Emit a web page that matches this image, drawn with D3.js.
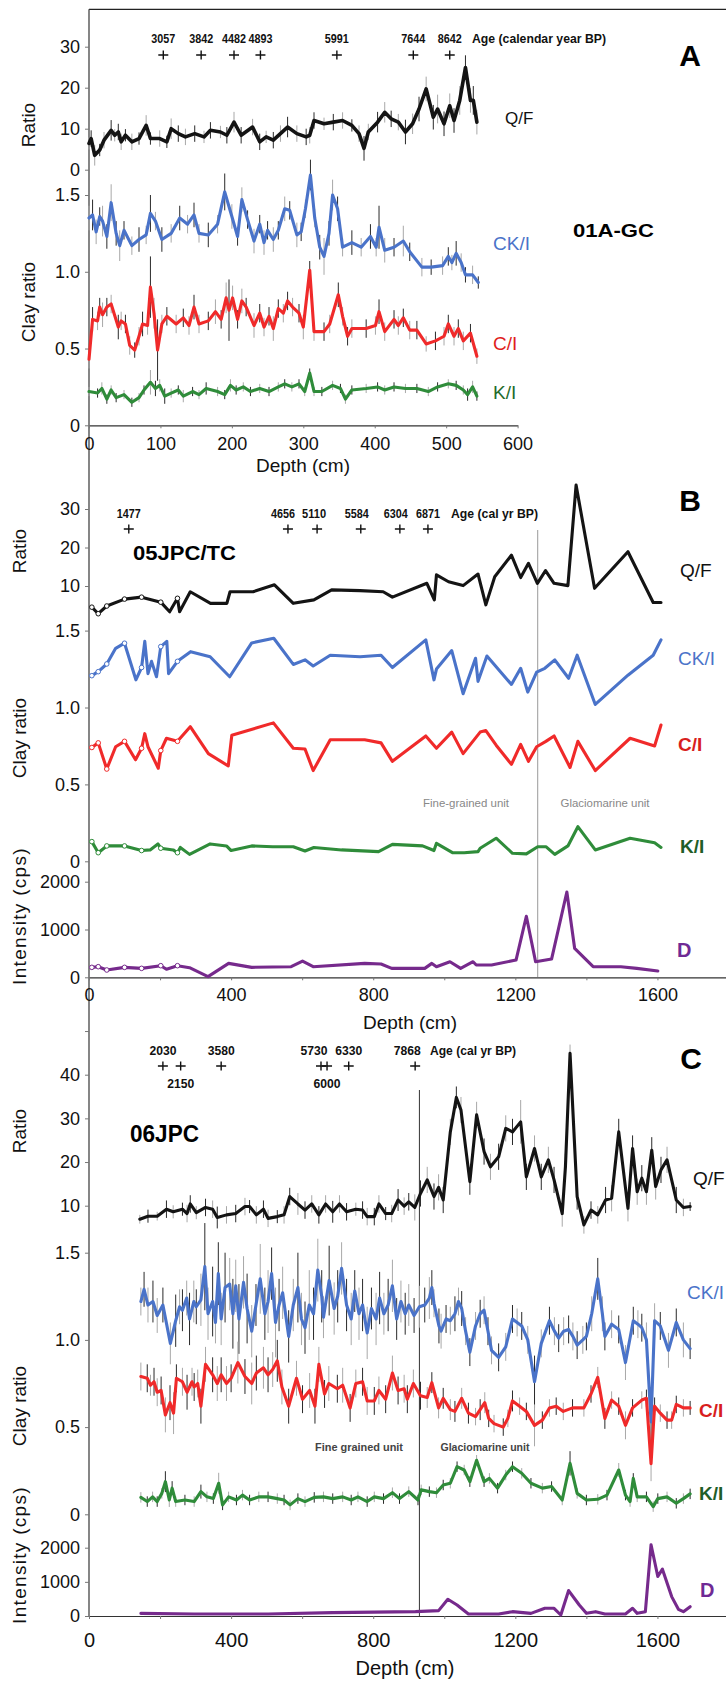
<!DOCTYPE html>
<html><head><meta charset="utf-8">
<script src="https://cdn.jsdelivr.net/npm/d3@7"></script>
<style>
body{margin:0;background:#fff}
svg{display:block}
text{font-family:"Liberation Sans",Arial,sans-serif}
</style></head>
<body><svg id="chart" width="726" height="1684"></svg>
<script>
// ---------------- DATA ----------------
// Panel A (01A-GC)
const aDepthQF=[0,3,8,15,21,31,36,41,45,51,60,70,80,86,99,109,115,125,135,148,161,170,184,193,203,213,229,239,248,258,268,278,291,304,309,315,329,342,355,368,378,385,391,404,414,423,433,443,453,462,472,482,488,497,505,511,519,527,534,538,543];
const aQF=[6.4,7.6,3.5,4.8,7.2,9.6,8.4,9.2,6.8,8.4,6.8,7.6,10.8,7.6,7.6,6.8,10,8.8,8,8.8,8,9.6,9.2,8.4,11.6,8.4,10.4,6.8,8,7.2,8.8,10.4,8.8,8,8.4,12,11.2,11.6,12,10.8,8.8,5.2,9.2,11.6,14,12.4,11.6,9.2,11.2,14.8,19.7,12.8,14.8,11.2,15.6,12,16.9,24.9,16.9,16.9,11.6];
const aQFerr=[1.5,2,2.5,1.5,2,2.5,1.5,2,2,1.5,2,1.5,2.5,1.5,2,1.5,2.5,2,2,2,1.5,2,1.5,2,2.5,2,2,2,1.5,2,2,2.5,2,2,2,2,1.5,2,2,1.5,2,3,2,2.5,2.5,2,2,3,2.5,3,3,3,3.5,3,3,3,3.5,3,3,3.5,3];
const aDepthCK=[0,5,10,15,19,25,31,38,43,49,60,70,80,86,93,102,115,127,138,147,154,167,180,190,200,208,214,222,231,239,245,250,258,265,274,281,291,297,303,310,316,323,329,336,341,348,355,368,381,394,402,406,414,427,440,449,466,479,495,503,508,514,521,527,537,545];
const aCK=[1.35,1.37,1.26,1.36,1.33,1.23,1.45,1.25,1.17,1.27,1.17,1.21,1.24,1.38,1.33,1.21,1.25,1.35,1.31,1.37,1.25,1.24,1.31,1.52,1.36,1.23,1.47,1.34,1.2,1.31,1.19,1.27,1.21,1.27,1.41,1.40,1.24,1.26,1.41,1.63,1.35,1.16,1.10,1.25,1.5,1.41,1.16,1.19,1.16,1.23,1.16,1.29,1.14,1.16,1.2,1.13,1.03,1.03,1.04,1.10,1.06,1.12,1.06,0.98,0.98,0.93];
const aCKerr=[0.08,0.1,0.08,0.06,0.1,0.08,0.12,0.08,0.1,0.06,0.06,0.08,0.06,0.12,0.06,0.08,0.06,0.08,0.06,0.08,0.06,0.08,0.06,0.12,0.08,0.06,0.08,0.06,0.08,0.06,0.08,0.06,0.08,0.06,0.08,0.06,0.08,0.06,0.06,0.1,0.06,0.08,0.12,0.08,0.1,0.08,0.06,0.08,0.06,0.08,0.06,0.14,0.08,0.06,0.1,0.06,0.06,0.05,0.06,0.06,0.05,0.08,0.06,0.05,0.06,0.04];
const aDepthCI=[0,5,12,15,19,25,31,41,45,51,57,64,70,75,82,86,91,96,102,109,122,132,140,147,154,167,177,185,192,196,201,208,214,220,231,239,245,252,258,265,272,278,285,294,300,309,315,329,337,349,355,362,368,388,401,406,414,427,433,440,449,459,472,485,497,503,511,517,524,534,543];
const aCI=[0.43,0.69,0.68,0.77,0.72,0.77,0.79,0.64,0.68,0.66,0.52,0.49,0.58,0.66,0.65,0.90,0.73,0.49,0.66,0.71,0.66,0.70,0.65,0.77,0.66,0.68,0.74,0.69,0.83,0.75,0.83,0.69,0.81,0.77,0.65,0.73,0.64,0.71,0.63,0.76,0.73,0.81,0.77,0.73,0.64,1.01,0.61,0.61,0.66,0.85,0.71,0.58,0.63,0.63,0.65,0.74,0.61,0.69,0.65,0.70,0.62,0.62,0.53,0.55,0.58,0.66,0.58,0.63,0.55,0.60,0.45];
const aCIerr=[0.06,0.08,0.06,0.06,0.08,0.06,0.06,0.08,0.06,0.06,0.06,0.05,0.06,0.08,0.06,0.2,0.1,0.2,0.06,0.06,0.06,0.06,0.06,0.08,0.06,0.06,0.08,0.06,0.1,0.2,0.08,0.06,0.08,0.06,0.08,0.06,0.06,0.06,0.08,0.06,0.06,0.06,0.06,0.06,0.08,0.06,0.06,0.06,0.06,0.08,0.06,0.06,0.06,0.06,0.06,0.08,0.06,0.06,0.06,0.06,0.06,0.06,0.05,0.06,0.06,0.06,0.06,0.06,0.06,0.06,0.05];
const aDepthKI=[0,12,18,25,31,38,49,60,70,77,86,93,99,106,115,125,132,145,154,164,180,190,198,206,216,226,239,252,265,274,284,294,302,309,315,326,341,352,359,368,388,404,414,427,443,459,475,488,503,514,524,530,537,543];
const aKI=[0.22,0.21,0.24,0.17,0.23,0.18,0.2,0.15,0.18,0.23,0.28,0.24,0.26,0.19,0.21,0.23,0.19,0.22,0.2,0.24,0.22,0.2,0.26,0.23,0.25,0.22,0.24,0.22,0.25,0.27,0.25,0.27,0.22,0.34,0.22,0.22,0.26,0.24,0.17,0.23,0.24,0.25,0.23,0.25,0.24,0.24,0.22,0.25,0.27,0.26,0.23,0.2,0.25,0.19];
const aKIerr=[0.03,0.03,0.04,0.03,0.03,0.03,0.03,0.03,0.03,0.03,0.08,0.05,0.04,0.05,0.03,0.03,0.04,0.03,0.03,0.04,0.03,0.03,0.04,0.03,0.03,0.03,0.03,0.03,0.03,0.03,0.03,0.03,0.03,0.03,0.03,0.03,0.03,0.03,0.03,0.03,0.03,0.03,0.03,0.03,0.03,0.03,0.03,0.03,0.03,0.03,0.03,0.04,0.04,0.03];
const aAgeDepths=[104,157,203,240,347,454,505];
const aAgeLabels=["3057","3842","4482","4893","5991","7644","8642"];

// Panel B (05JPC/TC)
const bTCDepths=[8,26,50,100,148,202,249];
const bDepthQF=[8,26,50,100,148,202,227,249,255,285,342,388,397,462,522,575,633,683,763,828,854,951,972,978,1012,1053,1095,1117,1142,1189,1215,1237,1262,1285,1309,1348,1371,1423,1517,1588,1610];
const bQF=[4.5,2.8,4.8,6.6,7.1,5.8,3.3,6.8,3.3,8.5,5.5,5.5,8.5,8.5,10.3,5.5,6.4,9,8.8,8.5,7.1,10.7,6.4,12.9,11.1,10.1,13.1,5.1,12.4,18,12.2,15.9,10.7,14,10.7,10.1,36.2,9.4,18.9,5.7,5.7];
const bDepthCK=[8,26,50,75,100,132,148,157,166,176,190,202,219,224,249,286,341,396,458,520,575,608,631,679,763,822,854,948,971,978,1021,1053,1088,1095,1120,1189,1215,1235,1260,1283,1311,1350,1374,1425,1517,1588,1610];
const bCK=[1.207,1.233,1.283,1.385,1.418,1.18,1.26,1.43,1.22,1.30,1.20,1.396,1.43,1.22,1.30,1.363,1.33,1.20,1.42,1.45,1.28,1.31,1.27,1.34,1.33,1.34,1.26,1.44,1.18,1.25,1.37,1.09,1.32,1.17,1.335,1.15,1.255,1.10,1.23,1.255,1.31,1.19,1.34,1.02,1.21,1.34,1.44];
const bDepthCI=[8,26,50,75,100,131,148,157,166,195,202,218,249,285,336,392,402,519,575,608,631,679,776,822,854,948,978,1021,1053,1101,1117,1146,1189,1215,1237,1260,1286,1309,1354,1376,1425,1523,1592,1610];
const bCI=[0.74,0.77,0.60,0.745,0.78,0.66,0.735,0.83,0.745,0.605,0.72,0.80,0.78,0.875,0.70,0.62,0.82,0.90,0.735,0.73,0.59,0.79,0.79,0.77,0.65,0.815,0.735,0.84,0.70,0.84,0.85,0.755,0.63,0.76,0.65,0.745,0.78,0.815,0.61,0.78,0.59,0.80,0.75,0.886];
const bDepthKI=[8,26,50,100,148,172,194,202,237,249,257,283,341,387,400,458,517,575,608,633,711,815,854,939,971,978,1023,1056,1095,1101,1146,1192,1231,1263,1286,1311,1348,1376,1425,1523,1592,1610];
const bKI=[0.128,0.056,0.10,0.10,0.07,0.074,0.113,0.085,0.074,0.056,0.09,0.045,0.113,0.10,0.07,0.10,0.095,0.095,0.067,0.09,0.074,0.063,0.11,0.10,0.07,0.117,0.056,0.056,0.063,0.085,0.15,0.052,0.048,0.095,0.095,0.045,0.10,0.225,0.074,0.15,0.12,0.09];
const bDepthD=[8,26,50,100,148,202,218,249,283,335,393,458,569,601,631,776,822,852,945,965,978,1016,1046,1081,1090,1133,1202,1231,1257,1302,1345,1367,1419,1497,1542,1601];
const bD=[208,222,153,208,187,243,167,243,201,14,291,208,222,340,222,291,278,187,187,291,222,326,187,326,257,257,361,1277,326,382,1784,604,222,222,187,132];
const bAgeDepths=[112,560,642,765,875,954];
const bAgeLabels=["1477","4656","5110","5584","6304","6871"];
const bUnitBoundary=1263;

// Panel C (06JPC)
const cDepthQF=[143,166,192,218,237,263,276,285,302,328,348,361,387,413,439,452,471,491,504,530,549,565,588,608,627,647,666,686,705,725,751,770,783,803,816,835,852,870,887,900,917,933,952,971,984,997,1017,1034,1047,1072,1091,1112,1130,1153,1173,1192,1215,1231,1254,1273,1293,1309,1332,1341,1354,1374,1393,1413,1432,1454,1471,1491,1517,1530,1543,1556,1569,1584,1595,1610,1627,1653,1673,1692];
const cQF=[6.9,7.6,7.6,9.2,8.6,9.2,8.2,10.4,8.4,9.6,9.2,7.3,7.9,8.2,9.8,9.8,7.9,9.2,7.1,7.5,7.9,12.1,10.4,9,10.4,7.9,10.4,8.6,10.4,8.6,9.2,9,7.5,7.5,10.4,8.2,8.2,11.3,9.9,10.9,9.6,12.8,15.9,12.1,14.2,11.3,26.9,34.8,31.9,15.5,30.8,22.4,18.9,21.2,27.7,26.9,29.2,16.6,23.1,16.6,20.5,15.9,8.2,18.9,44.9,12.1,5.6,9,7.9,11.3,11.7,26.9,9.4,23.1,13.2,16.3,13.2,22.7,14.4,18.2,20.5,11.3,9.6,9.8];
const cQFerr=[1,1.5,1,2,1.5,1.5,2,2,1.5,2,2,2.5,2,2,2,1.5,2,2,2,1.5,2,2,2.5,2,2,2,2,2.5,2,2,1.5,2,2,2,2,1.5,2,2.5,2,2,3,3,3,3,3,3,3,2.5,3,3,3,3,3,3,3,3,5,3,3,3,3,3,3,3,2,3,2,2,2,3,3,3,3,3,3,3,3,3,3,3,3,3,2,1];
const cDepthCK=[146,155,166,180,192,208,229,244,255,263,275,283,295,302,315,326,335,348,356,364,372,383,396,405,413,422,435,445,458,470,482,495,504,514,525,535,545,562,575,588,598,608,620,632,644,655,660,676,690,700,711,725,738,748,760,770,783,795,808,818,830,842,854,866,878,890,900,915,930,945,958,965,971,985,991,1005,1017,1030,1040,1049,1060,1072,1088,1101,1112,1123,1133,1153,1173,1192,1205,1218,1235,1254,1273,1296,1310,1322,1336,1350,1362,1374,1390,1400,1415,1432,1445,1452,1471,1491,1510,1532,1545,1556,1569,1582,1592,1608,1631,1653,1673,1692];
const cCK=[1.22,1.29,1.2,1.22,1.14,1.2,0.98,1.11,1.19,1.17,1.24,1.12,1.22,1.19,1.23,1.42,1.15,1.22,1.1,1.38,1.12,1.3,1.32,1.15,1.31,1.12,1.33,1.18,1.05,1.2,1.35,1.15,1.22,1.38,1.1,1.2,1.27,1.02,1.2,1.3,1.12,1.07,1.2,1.15,1.4,1.25,1.13,1.34,1.18,1.25,1.41,1.2,1.12,1.28,1.15,1.2,1.04,1.18,1.12,1.24,1.15,1.2,1.31,1.12,1.22,1.15,1.2,1.14,1.19,1.2,1.24,1.3,1.21,1.08,1.05,1.12,1.11,1.15,1.22,1.18,1.05,0.93,1.08,1.15,1.17,1.05,0.94,0.9,0.96,1.12,1.1,1.08,1.0,0.76,0.98,1.11,1.05,1.01,1.05,1.06,1.02,0.97,1.0,1.02,1.15,1.35,1.15,1.02,1.09,1.06,0.87,1.11,1.09,1.07,1.0,0.53,1.11,1.08,0.94,1.1,1.0,0.95];
const cCKerr=[0.08,0.1,0.1,0.12,0.1,0.1,0.12,0.15,0.1,0.12,0.1,0.15,0.12,0.1,0.15,0.25,0.15,0.2,0.12,0.18,0.15,0.2,0.15,0.2,0.15,0.2,0.15,0.2,0.15,0.12,0.2,0.15,0.18,0.15,0.2,0.15,0.15,0.15,0.15,0.2,0.15,0.15,0.2,0.15,0.18,0.15,0.12,0.2,0.15,0.15,0.15,0.15,0.15,0.12,0.15,0.15,0.15,0.12,0.15,0.15,0.12,0.15,0.15,0.12,0.12,0.12,0.12,0.1,0.12,0.1,0.12,0.1,0.08,0.1,0.1,0.08,0.08,0.1,0.08,0.1,0.08,0.08,0.08,0.08,0.08,0.08,0.08,0.08,0.08,0.08,0.08,0.08,0.08,0.15,0.08,0.08,0.08,0.08,0.08,0.08,0.08,0.08,0.08,0.08,0.1,0.12,0.1,0.08,0.08,0.08,0.1,0.08,0.08,0.08,0.1,0.2,0.1,0.08,0.1,0.08,0.1,0.06];
const cDepthCI=[146,164,173,183,192,203,215,228,238,246,263,276,290,296,306,315,328,348,361,372,387,400,419,439,458,471,491,504,517,530,543,562,584,601,621,636,647,663,675,699,714,735,751,770,783,803,816,835,854,870,887,896,913,933,952,965,984,997,1017,1030,1049,1068,1088,1101,1114,1125,1140,1166,1179,1192,1212,1231,1254,1276,1296,1315,1335,1361,1393,1413,1432,1452,1471,1491,1510,1530,1556,1569,1582,1592,1608,1627,1640,1653,1673,1692];
const cCI=[0.79,0.78,0.74,0.76,0.70,0.71,0.57,0.64,0.58,0.78,0.76,0.70,0.76,0.73,0.75,0.62,0.86,0.80,0.75,0.80,0.75,0.78,0.87,0.79,0.75,0.81,0.84,0.80,0.83,0.88,0.73,0.62,0.78,0.66,0.71,0.62,0.86,0.69,0.75,0.72,0.74,0.61,0.75,0.76,0.65,0.65,0.71,0.66,0.81,0.71,0.72,0.66,0.75,0.68,0.67,0.755,0.61,0.665,0.60,0.59,0.665,0.58,0.56,0.60,0.64,0.55,0.52,0.50,0.55,0.65,0.62,0.59,0.51,0.54,0.61,0.62,0.59,0.61,0.61,0.69,0.785,0.55,0.655,0.62,0.51,0.61,0.655,0.665,0.29,0.62,0.58,0.54,0.54,0.63,0.61,0.61];
const cCIerr=[0.08,0.08,0.06,0.08,0.08,0.08,0.1,0.1,0.12,0.08,0.08,0.1,0.08,0.08,0.08,0.1,0.1,0.1,0.1,0.1,0.1,0.08,0.12,0.1,0.12,0.1,0.12,0.1,0.1,0.12,0.1,0.1,0.1,0.08,0.1,0.1,0.1,0.08,0.1,0.08,0.1,0.08,0.08,0.08,0.08,0.08,0.08,0.08,0.1,0.08,0.08,0.08,0.08,0.08,0.06,0.06,0.06,0.06,0.06,0.06,0.06,0.06,0.05,0.06,0.06,0.05,0.05,0.05,0.05,0.06,0.05,0.05,0.12,0.05,0.05,0.05,0.05,0.05,0.05,0.05,0.06,0.06,0.05,0.05,0.08,0.05,0.05,0.05,0.1,0.05,0.05,0.05,0.05,0.05,0.05,0.04];
const cDepthKI=[146,164,179,192,205,215,226,234,244,270,296,315,332,350,365,376,393,415,432,452,478,504,530,549,566,588,608,634,660,686,714,738,757,783,803,829,854,874,900,926,935,958,978,997,1017,1036,1056,1072,1091,1112,1127,1150,1173,1192,1218,1244,1276,1302,1332,1354,1374,1400,1432,1458,1491,1510,1523,1532,1543,1569,1588,1601,1627,1653,1673,1692];
const cKI=[0.097,0.073,0.10,0.073,0.12,0.187,0.082,0.15,0.073,0.082,0.073,0.13,0.10,0.09,0.178,0.054,0.10,0.082,0.11,0.082,0.10,0.10,0.09,0.082,0.054,0.09,0.073,0.097,0.10,0.09,0.10,0.082,0.10,0.073,0.10,0.09,0.124,0.09,0.13,0.082,0.14,0.13,0.124,0.168,0.178,0.273,0.254,0.187,0.31,0.187,0.206,0.15,0.225,0.273,0.235,0.178,0.15,0.159,0.082,0.292,0.12,0.082,0.086,0.11,0.254,0.11,0.073,0.206,0.10,0.10,0.044,0.09,0.10,0.063,0.09,0.117];
const cKIerr=[0.03,0.03,0.03,0.03,0.03,0.06,0.04,0.04,0.03,0.03,0.03,0.04,0.03,0.03,0.06,0.03,0.03,0.03,0.03,0.03,0.03,0.03,0.03,0.03,0.03,0.03,0.03,0.03,0.03,0.03,0.03,0.03,0.03,0.03,0.03,0.03,0.03,0.03,0.03,0.03,0.03,0.03,0.03,0.03,0.03,0.03,0.03,0.03,0.03,0.03,0.03,0.03,0.03,0.03,0.03,0.03,0.03,0.03,0.03,0.07,0.03,0.03,0.03,0.03,0.04,0.03,0.03,0.03,0.03,0.03,0.03,0.03,0.03,0.03,0.03,0.03];
const cDepthD=[146,296,504,686,919,984,1010,1036,1068,1153,1192,1244,1283,1309,1328,1350,1380,1400,1426,1452,1510,1530,1543,1566,1582,1601,1614,1640,1659,1673,1692];
const cD=[78,59,59,98,127,157,490,323,59,59,127,78,225,225,29,745,323,78,127,59,59,225,78,127,2087,1156,1372,568,196,127,274];
const cAgeDepths=[208,258,372,653,670,731,918];
const cAgeLabels=["2030","2150","3580","5730","6000","6330","7868"];
const cUnitBoundary=930;

// axis ticks
const ratioTicksA=[0,10,20,30], clayTicks=[0,0.5,1.0,1.5];
const ratioTicksB=[10,20,30], ratioTicksC=[10,20,30,40,50];
const intTicks=[0,1000,2000];
const depthTicksA=[0,100,200,300,400,500,600];
const depthTicksBC=[0,200,400,600,800,1000,1200,1400,1600,1800];

// ---------------- DRAW ----------------
const svg=d3.select("#chart");
svg.append("rect").attr("width",726).attr("height",1684).attr("fill","#fff");

const COL={qf:"#141414",ck:"#4a73c9",ci:"#f02a2a",ki:"#2f8c3a",d:"#762a8c"};
const AX=89;

const xA=d3.scaleLinear().domain([0,600]).range([AX,517.6]);
const xBC=d3.scaleLinear().domain([0,1800]).range([AX,728.5]);

const yAr=d3.scaleLinear().domain([0,30]).range([169.7,46.7]);
const yAc=d3.scaleLinear().domain([0,1.5]).range([425.3,195]);
const yBr=d3.scaleLinear().domain([10,30]).range([586,509]);
const yBc=d3.scaleLinear().domain([0,1]).range([861.3,707.5]);
const yBi=d3.scaleLinear().domain([0,2000]).range([977.3,881.7]);
const yCr=d3.scaleLinear().domain([10,40]).range([1205.7,1074.7]);
const yCc=d3.scaleLinear().domain([0,1.5]).range([1514.3,1252.7]);
const yCi=d3.scaleLinear().domain([0,2000]).range([1616,1547.7]);

const fmtClay=v=>v===0?"0":d3.format(".1f")(v);

function yAxis(scale,ticks,fmt,labelSkip){
  const g=svg.append("g").attr("transform",`translate(${AX},0)`)
    .call(d3.axisLeft(scale).tickValues(ticks).tickSize(4).tickPadding(5).tickFormat(fmt));
  g.select(".domain").remove();
  g.selectAll(".tick line").attr("stroke","#777");
  g.selectAll(".tick text").attr("font-size",18).attr("fill","#111")
    .attr("font-family","'Liberation Sans',Arial,sans-serif")
    .text(d=>labelSkip&&labelSkip.includes(d)?"":fmt(d));
}
function xAxis(scale,y,ticks,labelEvery,fs,off){
  const g=svg.append("g").attr("transform",`translate(0,${y})`)
    .call(d3.axisBottom(scale).tickValues(ticks).tickSize(3).tickSizeOuter(0).tickFormat(d=>d%labelEvery===0?d:""));
  g.select(".domain").attr("stroke","#333").attr("stroke-width",1.2);
  g.selectAll(".tick line").attr("stroke","#777");
  g.selectAll(".tick text").attr("font-size",fs).attr("fill","#111").attr("y",off).attr("dy",null)
    .attr("dominant-baseline","central").attr("font-family","'Liberation Sans',Arial,sans-serif");
}

function errBars(x,y,depths,vals,errs){
  const g=svg.append("g");
  depths.forEach((d,i)=>{
    g.append("line").attr("x1",x(d)).attr("x2",x(d))
     .attr("y1",y(vals[i]-errs[i])).attr("y2",y(vals[i]+errs[i]))
     .attr("stroke",i%2?"#2a2a2a":"#a8a8a8").attr("stroke-width",1);
  });
}
function series(x,y,depths,vals,color,w,markers){
  const pts=d3.zip(depths,vals);
  svg.append("path").datum(pts).attr("fill","none").attr("stroke",color)
    .attr("stroke-width",w).attr("stroke-linejoin","round").attr("stroke-linecap","round")
    .attr("d",d3.line().x(p=>x(p[0])).y(p=>y(p[1])));
  if(markers){
    svg.append("g").selectAll("circle").data(pts.filter(p=>markers.includes(p[0]))).join("circle")
      .attr("cx",p=>x(p[0])).attr("cy",p=>y(p[1])).attr("r",2.3)
      .attr("fill","#fff").attr("stroke",color).attr("stroke-width",1);
  }
}
function txt(s,x,y,o){
  const t=svg.append("text").attr("x",x).attr("y",y).attr("dominant-baseline","central").text(s);
  Object.entries(o||{}).forEach(([k,v])=>t.attr(k,v));
  return t;
}
function yTitle(s,x,y,extra){
  const t=svg.append("text").attr("transform",`translate(${x},${y}) rotate(-90)`)
    .attr("text-anchor","middle").attr("dominant-baseline","central")
    .attr("font-size",19).attr("fill","#111").text(s);
  if(extra) Object.entries(extra).forEach(([k,v])=>t.attr(k,v));
}
function ages(x,depths,labels,yLab,yPlus,opts){
  const g=svg.append("g");
  depths.forEach((d,i)=>{
    const px=x(d);
    g.append("path").attr("d",`M${px-5},${yPlus}H${px+5}M${px},${yPlus-4.5}V${yPlus+4.5}`)
      .attr("stroke","#111").attr("stroke-width",1.4);
    const below=opts.below&&opts.below.includes(i);
    const dx=(opts.shift&&opts.shift[i])||0;
    g.append("text").attr("x",px+dx).attr("y",below?opts.yBelow:yLab)
      .attr("text-anchor","middle").attr("dominant-baseline","central")
      .attr("font-size",opts.fs).attr("font-weight","bold").attr("font-family",opts.ff)
      .attr("textLength",opts.tl).attr("lengthAdjust","spacingAndGlyphs")
      .attr("fill","#111").text(labels[i]);
  });
}

// frame lines
svg.append("line").attr("x1",AX).attr("x2",726).attr("y1",9.3).attr("y2",9.3).attr("stroke","#222").attr("stroke-width",1.3);
svg.append("line").attr("x1",AX).attr("x2",AX).attr("y1",9.3).attr("y2",1616).attr("stroke","#444").attr("stroke-width",1.3);

// ---- Panel A ----
yAxis(yAr,ratioTicksA,d3.format("d"));
yAxis(yAc,clayTicks,fmtClay);
xAxis(xA,425.3,depthTicksA,100,18,19);
errBars(xA,yAr,aDepthQF,aQF,aQFerr);
errBars(xA,yAc,aDepthCK,aCK,aCKerr);
errBars(xA,yAc,aDepthCI,aCI,aCIerr);
errBars(xA,yAc,aDepthKI,aKI,aKIerr);
series(xA,yAr,aDepthQF,aQF,COL.qf,3.6);
series(xA,yAc,aDepthCK,aCK,COL.ck,3.1);
series(xA,yAc,aDepthCI,aCI,COL.ci,3.1);
series(xA,yAc,aDepthKI,aKI,COL.ki,3.1);
ages(xA,aAgeDepths,aAgeLabels,39,55,{fs:12,tl:24,ff:"'Liberation Sans',Arial"});
txt("Age (calendar year BP)",472,39,{"font-size":12,"font-weight":"bold","textLength":134,"lengthAdjust":"spacingAndGlyphs","fill":"#111"});
txt("A",690,55,{"font-size":30,"font-weight":"bold","text-anchor":"middle","fill":"#000"});
txt("01A-GC",573,231,{"font-size":18,"font-weight":"bold","textLength":81,"lengthAdjust":"spacingAndGlyphs","fill":"#000"});
txt("Q/F",505,118,{"font-size":17,"fill":"#111"});
txt("CK/I",493,243,{"font-size":19,"fill":COL.ck});
txt("C/I",493,343,{"font-size":19,"fill":"#e01e1e"});
txt("K/I",493,392,{"font-size":19,"fill":"#236b2c"});
yTitle("Ratio",28,125);
yTitle("Clay ratio",28,302);
txt("Depth (cm)",303,465,{"font-size":19,"text-anchor":"middle","fill":"#111"});

// ---- Panel B ----
yAxis(yBr,ratioTicksB,d3.format("d"));
yAxis(yBc,clayTicks,fmtClay);
yAxis(yBi,intTicks,d3.format("d"));
xAxis(xBC,977.3,depthTicksBC,400,18,18);
svg.append("line").attr("x1",xBC(bUnitBoundary)).attr("x2",xBC(bUnitBoundary)).attr("y1",530).attr("y2",977)
  .attr("stroke","#9a9a9a").attr("stroke-width",1);
series(xBC,yBr,bDepthQF,bQF,COL.qf,3.1,bTCDepths);
series(xBC,yBc,bDepthCK,bCK,COL.ck,3.1,bTCDepths);
series(xBC,yBc,bDepthCI,bCI,COL.ci,3.1,bTCDepths);
series(xBC,yBc,bDepthKI,bKI,COL.ki,3.1,bTCDepths);
series(xBC,yBi,bDepthD,bD,COL.d,3.1,bTCDepths);
ages(xBC,bAgeDepths,bAgeLabels,514,529,{fs:12,tl:24,ff:"'Liberation Sans',Arial",shift:[0,-5,-3,-4,-4,0]});
txt("Age (cal yr BP)",451,514,{"font-size":12,"font-weight":"bold","textLength":87,"lengthAdjust":"spacingAndGlyphs","fill":"#111"});
txt("B",690,500,{"font-size":30,"font-weight":"bold","text-anchor":"middle","fill":"#000"});
txt("05JPC/TC",133,553,{"font-size":20,"font-weight":"bold","textLength":103,"lengthAdjust":"spacingAndGlyphs","fill":"#000"});
txt("Q/F",680,570,{"font-size":19,"fill":"#111"});
txt("CK/I",678,658,{"font-size":19,"fill":COL.ck});
txt("C/I",678,744,{"font-size":19,"font-weight":"bold","fill":"#d81e1e"});
txt("K/I",680,846,{"font-size":19,"font-weight":"bold","fill":"#1f5e28"});
txt("D",677,950,{"font-size":20,"font-weight":"bold","fill":"#6f2a95"});
txt("Fine-grained unit",466,803,{"font-size":11,"text-anchor":"middle","fill":"#888","textLength":86,"lengthAdjust":"spacingAndGlyphs"});
txt("Glaciomarine unit",605,803,{"font-size":11,"text-anchor":"middle","fill":"#888","textLength":89,"lengthAdjust":"spacingAndGlyphs"});
yTitle("Ratio",19,551);
yTitle("Clay ratio",19,738);
yTitle("Intensity (cps)",19,916,{"letter-spacing":"1.3px"});
txt("Depth (cm)",410,1022,{"font-size":19,"text-anchor":"middle","fill":"#111"});

// ---- Panel C ----
yAxis(yCr,ratioTicksC,d3.format("d"),[50]);
yAxis(yCc,clayTicks,fmtClay);
yAxis(yCi,intTicks,d3.format("d"));
xAxis(xBC,1616,depthTicksBC,400,20,24);
svg.append("line").attr("x1",xBC(cUnitBoundary)).attr("x2",xBC(cUnitBoundary)).attr("y1",1090).attr("y2",1616)
  .attr("stroke","#333").attr("stroke-width",1);
errBars(xBC,yCr,cDepthQF,cQF,cQFerr);
errBars(xBC,yCc,cDepthCK,cCK,cCKerr);
errBars(xBC,yCc,cDepthCI,cCI,cCIerr);
errBars(xBC,yCc,cDepthKI,cKI,cKIerr);
series(xBC,yCr,cDepthQF,cQF,COL.qf,3.1);
series(xBC,yCc,cDepthCK,cCK,COL.ck,3.1);
series(xBC,yCc,cDepthCI,cCI,COL.ci,3.1);
series(xBC,yCc,cDepthKI,cKI,COL.ki,3.1);
series(xBC,yCi,cDepthD,cD,COL.d,3.1);
ages(xBC,cAgeDepths,cAgeLabels,1050,1066,{fs:13,tl:27,ff:"'Liberation Serif','Times New Roman',serif",below:[1,4],yBelow:1083,shift:[0,0,0,-7,0,0,-8]});
txt("Age (cal yr BP)",430,1050,{"font-size":13,"font-weight":"bold","font-family":"'Liberation Serif','Times New Roman',serif","textLength":86,"lengthAdjust":"spacingAndGlyphs","fill":"#111"});
txt("C",691,1058,{"font-size":30,"font-weight":"bold","text-anchor":"middle","fill":"#000"});
txt("06JPC",130,1133,{"font-size":24,"font-weight":"bold","textLength":69,"lengthAdjust":"spacingAndGlyphs","fill":"#000"});
txt("Q/F",693,1178,{"font-size":19,"fill":"#111"});
txt("CK/I",687,1292,{"font-size":19,"fill":COL.ck});
txt("C/I",699,1410,{"font-size":19,"font-weight":"bold","fill":"#d81e1e"});
txt("K/I",699,1493,{"font-size":19,"font-weight":"bold","fill":"#1f5e28"});
txt("D",700,1590,{"font-size":20,"font-weight":"bold","fill":"#6f2a95"});
txt("Fine grained unit",359,1447,{"font-size":11,"font-weight":"bold","font-family":"'Liberation Serif','Times New Roman',serif","text-anchor":"middle","fill":"#444","textLength":88,"lengthAdjust":"spacingAndGlyphs"});
txt("Glaciomarine unit",485,1447,{"font-size":11,"font-weight":"bold","font-family":"'Liberation Serif','Times New Roman',serif","text-anchor":"middle","fill":"#444","textLength":89,"lengthAdjust":"spacingAndGlyphs"});
yTitle("Ratio",19,1131);
yTitle("Clay ratio",19,1406);
yTitle("Intensity (cps)",19,1555,{"letter-spacing":"1.3px"});
txt("Depth (cm)",405,1668,{"font-size":20,"text-anchor":"middle","fill":"#111"});
</script>
</body></html>
